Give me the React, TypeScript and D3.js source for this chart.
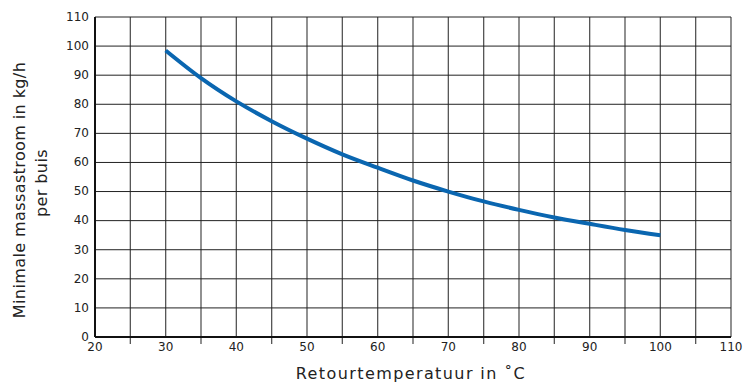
import React from "react";
import * as d3 from "d3";

const xTicks = [20, 30, 40, 50, 60, 70, 80, 90, 100, 110];
const xMinor = [25, 35, 45, 55, 65, 75, 85, 95, 105];
const yTicks = [0, 10, 20, 30, 40, 50, 60, 70, 80, 90, 100, 110];
const temps = [30, 35, 40, 45, 50, 55, 60, 65, 70, 75, 80, 85, 90, 95, 100];
const flow = [98.5, 89, 81, 74.2, 68.2, 62.8, 58.2, 53.8, 50, 46.6, 43.7, 41.1, 38.9, 36.8, 35];

const W = 744, H = 382;
const M = { left: 95, right: 13, top: 17, bottom: 45 };

export default function App() {
  const x = d3.scaleLinear().domain([20, 110]).range([M.left, W - M.right]);
  const y = d3.scaleLinear().domain([0, 110]).range([H - M.bottom, M.top]);
  const line = d3.line<number>().x((_, i) => x(temps[i])).y((d) => y(d)).curve(d3.curveMonotoneX);
  const tickFont = "'DejaVu Sans', sans-serif";
  const labelFont = "'DejaVu Sans', sans-serif";
  return (
    <svg width={W} height={H} style={{ position: "absolute", left: 0, top: 0 }}>
      <rect width={W} height={H} fill="#fff" />
      {[...xTicks, ...xMinor].map((t) => (
        <line key={"v" + t} x1={x(t)} x2={x(t)} y1={y(110)} y2={xMinor.includes(t) ? y(0) + 7 : y(0)} stroke="#555" strokeWidth={1.3} />
      ))}
      {yTicks.map((t) => (
        <line key={"h" + t} x1={x(20)} x2={x(110)} y1={y(t)} y2={y(t)} stroke="#222" strokeWidth={1} />
      ))}
      <line x1={x(20)} x2={x(110)} y1={y(0)} y2={y(0)} stroke="#111" strokeWidth={2} />
      <line x1={x(20)} x2={x(20)} y1={y(110)} y2={y(0)} stroke="#111" strokeWidth={2} />
      {yTicks.map((t) => (
        <text key={"yl" + t} x={x(20) - 6} y={y(t)} dy="0.32em" textAnchor="end" fontFamily={tickFont} fontSize={12} fill="#222">
          {t}
        </text>
      ))}
      {xTicks.map((t) => (
        <text key={"xl" + t} x={x(t)} y={y(0) + 14} textAnchor="middle" fontFamily={tickFont} fontSize={12} fill="#222">
          {t}
        </text>
      ))}
      <path d={line(flow) || ""} fill="none" stroke="#0a66b0" strokeWidth={4} />
      <text x={411} y={379} textAnchor="middle" fontFamily={labelFont} fontSize={16} letterSpacing={1.4} fill="#222">
        Retourtemperatuur in ˚C
      </text>
      <g transform={`translate(25, 190) rotate(-90)`}>
        <text x={0} y={0} textAnchor="middle" fontFamily={labelFont} fontSize={16} letterSpacing={0.4} fill="#222">
          Minimale massastroom in kg/h
        </text>
        <text x={7} y={22} textAnchor="middle" fontFamily={labelFont} fontSize={16} letterSpacing={0.4} fill="#222">
          per buis
        </text>
      </g>
    </svg>
  );
}
